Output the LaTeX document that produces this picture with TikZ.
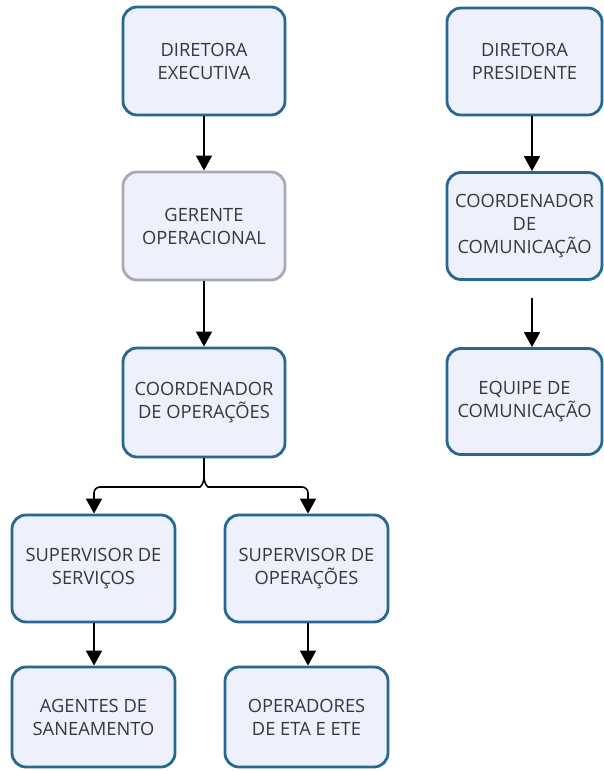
\documentclass[tikz,border=0pt]{standalone}
\usepackage{fontspec}
\setmainfont{Open Sans}
\usetikzlibrary{arrows.meta}
\definecolor{boxfill}{RGB}{238,240,251}
\definecolor{boxedge}{RGB}{38,104,145}
\definecolor{grayedge}{RGB}{168,168,184}
\definecolor{txt}{RGB}{55,55,60}
\tikzset{
  orgbox/.style={draw=boxedge, line width=2.8pt, fill=boxfill, rounded corners=14pt,
    minimum width=#1, align=center, text=txt, font=\fontsize{18.3}{23}\selectfont, inner sep=0pt},
  orgbox/.default=162pt,
  conn/.style={draw=black, line width=1.6pt, -{Triangle[width=16pt,length=15pt]}},
  plain/.style={draw=black, line width=1.6pt}
}
\begin{document}
\begin{tikzpicture}[x=1pt,y=-1pt]
\useasboundingbox (0,0) rectangle (604,771);
% left column
\node[orgbox, minimum height=108pt] (de) at (204,61) {DIRETORA\\EXECUTIVA};
\node[orgbox, minimum height=108pt, draw=grayedge] (ger) at (204,226) {GERENTE\\OPERACIONAL};
\node[orgbox, minimum height=109pt] (cop) at (204,402.5) {COORDENADOR\\DE OPERAÇÕES};
\node[orgbox=163pt, minimum height=107pt] (svs) at (93.5,568.5) {SUPERVISOR DE\\SERVIÇOS};
\node[orgbox=163pt, minimum height=107pt] (sop) at (306.5,568.5) {SUPERVISOR DE\\OPERAÇÕES};
\node[orgbox=163pt, minimum height=100pt] (age) at (93.5,717) {AGENTES DE\\SANEAMENTO};
\node[orgbox=163pt, minimum height=100pt] (ope) at (306.5,717) {OPERADORES\\DE ETA E ETE};
% right column
\node[orgbox=155pt, minimum height=107pt] (dp) at (524.5,61.5) {DIRETORA\\PRESIDENTE};
\node[orgbox=155pt, minimum height=107pt] (cc) at (524.5,226) {COORDENADOR\\DE\\COMUNICAÇÃO};
\node[orgbox=155pt, minimum height=106pt] (eq) at (524.5,401.5) {EQUIPE DE\\COMUNICAÇÃO};
% connectors
\coordinate (ax) at (532,0);
\coordinate (lx) at (94,0);
\coordinate (rx) at (308,0);
\coordinate (jtop) at (204,477);
\coordinate (jl) at (194,487);
\coordinate (jr) at (214,487);
\path[conn] (de.south) -- (ger.north);
\path[conn] (ger.south) -- (cop.north);
\draw[plain] (cop.south) -- (jtop);
\draw[plain, rounded corners=6pt] (jtop) .. controls (204,484) and (200,487) .. (jl) -- (jl -| lx) -- ([yshift=-8pt]jl -| lx);
\draw[plain, rounded corners=6pt] (jtop) .. controls (204,484) and (208,487) .. (jr) -- (jr -| rx) -- ([yshift=-8pt]jr -| rx);
\path[conn] ([yshift=-6pt]jl -| lx) -- (svs.north -| lx);
\path[conn] ([yshift=-6pt]jr -| rx) -- (sop.north -| rx);
\path[conn] (svs.south -| lx) -- (age.north -| lx);
\path[conn] (sop.south -| rx) -- (ope.north -| rx);
\path[conn] (dp.south -| ax) -- (cc.north -| ax);
\path[conn] ([yshift=-17pt]cc.south -| ax) -- (eq.north -| ax);
\end{tikzpicture}
\end{document}
